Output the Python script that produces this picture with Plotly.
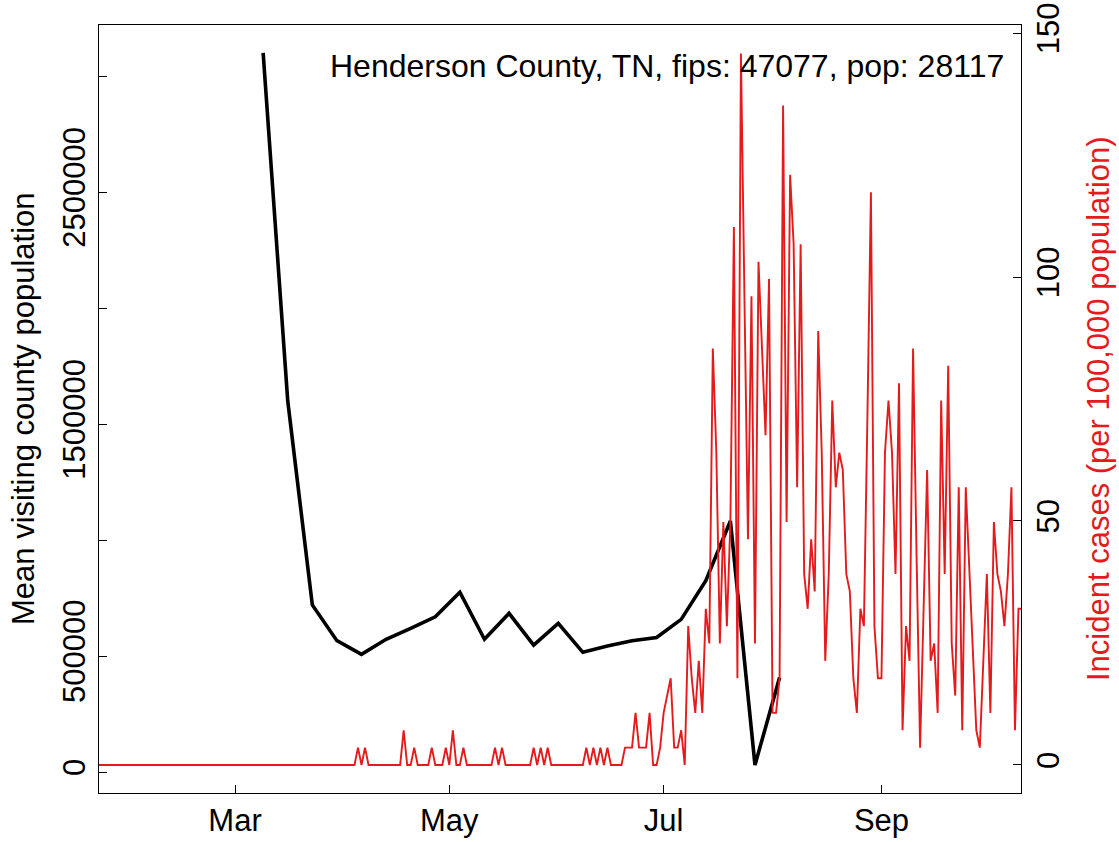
import pandas as pd
import plotly.graph_objects as go

# ---------------- data ----------------
county_title = "Henderson County, TN, fips: 47077, pop: 28117"
county_pop = 28117

# weekly mean visiting county population (black line)
mob_dates = ["2020-03-09", "2020-03-16", "2020-03-23", "2020-03-30", "2020-04-06",
             "2020-04-13", "2020-04-20", "2020-04-27", "2020-05-04", "2020-05-11",
             "2020-05-18", "2020-05-25", "2020-06-01", "2020-06-08", "2020-06-15",
             "2020-06-22", "2020-06-29", "2020-07-06", "2020-07-13", "2020-07-20",
             "2020-07-27", "2020-08-03"]
mob_values = [3100000, 1600000, 720000, 566000, 507000,
              572000, 619000, 669000, 775000, 572000,
              684000, 547000, 641000, 516000, 543000,
              566000, 580000, 658000, 825000, 1082000,
              30000, 407000]

# daily incident case counts (red line), Jan 22 .. Oct 11 2020
cases_jan = [0] * 10
cases_feb = [0] * 29
cases_mar = [0] * 31
cases_apr = [0, 0, 0, 0, 1, 0, 1, 0, 0, 0, 0, 0, 0, 0, 0, 0, 0, 2, 0, 0,
             1, 0, 0, 0, 0, 1, 0, 0, 0, 1]
cases_may = [0, 2, 0, 0, 1, 0, 0, 0, 0, 0, 0, 0, 0, 1, 0, 1, 0, 0, 0, 0,
             0, 0, 0, 0, 1, 0, 1, 0, 1, 0, 0]
cases_jun = [0, 0, 0, 0, 0, 0, 0, 0, 1, 0, 1, 0, 1, 0, 1, 0, 0, 0, 0, 1,
             1, 1, 3, 1, 1, 1, 3, 0, 0, 1]
cases_jul = [3, 4, 5, 1, 1, 2, 0, 8, 5, 3, 6, 3, 9, 7, 24, 18, 7, 14, 8, 14,
             31, 5, 41, 27, 13, 27, 7, 29, 24, 19, 28]
cases_aug = [3, 3, 5, 38, 14, 34, 30, 16, 30, 11, 9, 13, 10, 25, 18, 6, 11, 21, 16, 18,
             17, 11, 10, 5, 3, 9, 8, 20, 33, 8, 5]
cases_sep = [5, 18, 21, 18, 11, 22, 2, 8, 6, 24, 12, 1, 9, 17, 6, 7, 3, 21, 11, 23,
             7, 4, 16, 2, 16, 11, 6, 2, 1, 6]
cases_oct = [11, 3, 14, 11, 10, 8, 11, 16, 2, 9, 9]

month_ticks = ["2020-03-01", "2020-05-01", "2020-07-01", "2020-09-01"]
month_labels = ["Mar", "May", "Jul", "Sep"]
left_ticks = [0, 500000, 1000000, 1500000, 2000000, 2500000, 3000000]
left_labels = ["0", "500000", "", "1500000", "", "2500000", ""]
right_ticks = [0, 50, 100, 150]
right_labels = ["0", "50", "100", "150"]

# ---------------- build ----------------
counts = (cases_jan + cases_feb + cases_mar + cases_apr + cases_may +
          cases_jun + cases_jul + cases_aug + cases_sep + cases_oct)
case_dates = pd.date_range("2020-01-22", periods=len(counts), freq="D")
case_rates = [c * 100000 / county_pop for c in counts]

FONT = "Liberation Sans, Arial, Helvetica, sans-serif"
RED = "#e41a1c"
FS = 31

fig = go.Figure()
fig.add_trace(go.Scatter(x=pd.to_datetime(mob_dates), y=mob_values, mode="lines",
                         line=dict(color="black", width=3.6), yaxis="y",
                         showlegend=False, hoverinfo="skip"))
fig.add_trace(go.Scatter(x=case_dates, y=case_rates, mode="lines",
                         line=dict(color=RED, width=1.9), yaxis="y2",
                         showlegend=False, hoverinfo="skip"))

x0 = pd.Timestamp("2020-02-01") - pd.Timedelta(days=0.04 * 243)
x1 = pd.Timestamp("2020-10-01") + pd.Timedelta(days=0.04 * 243)

W, H = 1119, 842
L, R, T, B = 99, 98, 25, 49
pw, ph = W - L - R, H - T - B

def px_x(x):
    return (x - L) / pw

def px_y(y):
    return (H - B - y) / ph

axis_common = dict(showline=True, linecolor="black", linewidth=1.4,
                   ticks="inside", ticklen=8, tickwidth=1.4, tickcolor="black",
                   showgrid=False, zeroline=False, automargin=False,
                   tickfont=dict(family=FONT, size=FS, color="black"))

fig.update_layout(
    width=W, height=H,
    margin=dict(l=L, r=R, t=T, b=B, pad=0, autoexpand=False),
    paper_bgcolor="white", plot_bgcolor="white",
    font=dict(family=FONT, size=FS, color="black"),
    xaxis=dict(type="date", range=[x0, x1], tickvals=pd.to_datetime(month_ticks),
               ticktext=month_labels, mirror=True, **axis_common),
    yaxis=dict(range=[-90517, 3219828], tickvals=left_ticks, ticktext=left_labels,
               tickangle=-90, **axis_common),
    yaxis2=dict(range=[-5.74, 151.64], tickvals=right_ticks, ticktext=right_labels,
                tickangle=-90, overlaying="y", side="right", **axis_common),
    annotations=[
        dict(text=county_title, xref="paper", yref="paper",
             x=px_x(1006), y=px_y(66), xanchor="right", yanchor="middle",
             showarrow=False, font=dict(family=FONT, size=32, color="black")),
        dict(text="Mean visiting county population", xref="paper", yref="paper",
             x=px_x(23), y=0.5, xanchor="center", yanchor="middle", textangle=-90,
             showarrow=False, font=dict(family=FONT, size=FS, color="black")),
        dict(text="Incident cases (per 100,000 population)", xref="paper", yref="paper",
             x=px_x(1098), y=0.5, xanchor="center", yanchor="middle", textangle=-90,
             showarrow=False, font=dict(family=FONT, size=FS, color=RED)),
    ],
)

fig.write_html("out.html", config={"displayModeBar": False},
               post_script="document.body.style.margin='0';")
